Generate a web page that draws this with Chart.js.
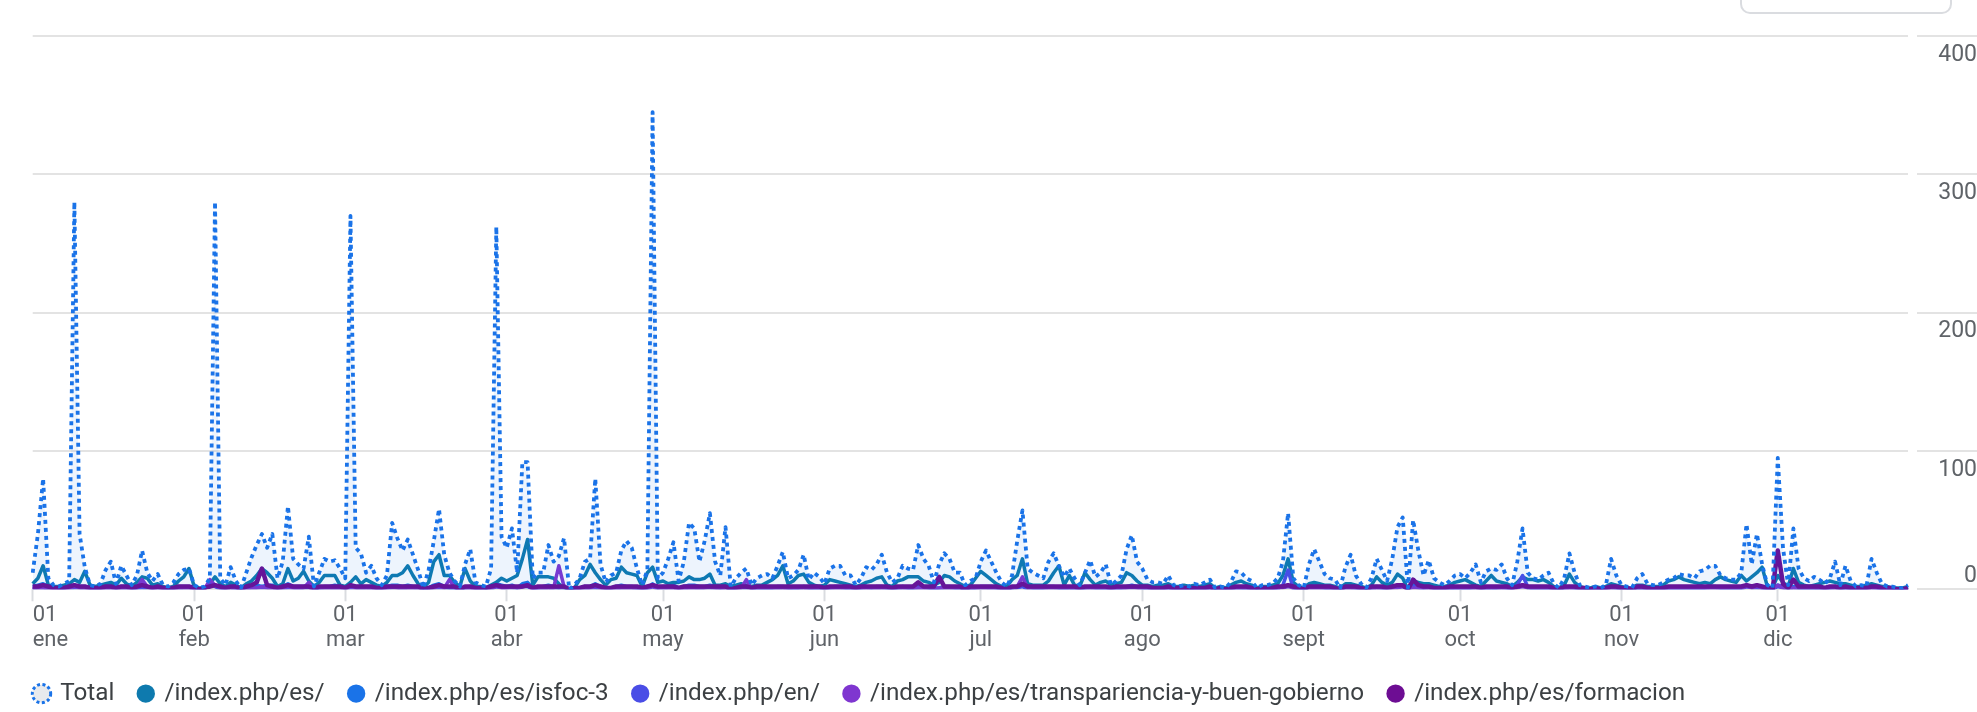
<!DOCTYPE html>
<html lang="es">
<head>
<meta charset="utf-8">
<title>Vistas por página</title>
<script src="https://cdn.jsdelivr.net/npm/chart.js@4.4.1/dist/chart.umd.min.js"></script>
<style>
  html, body { margin: 0; padding: 0; background: #fff; }
  #wrap { position: relative; width: 1977px; height: 712px; overflow: hidden; }
  #chart { display: block; }
  .menuBox { position: absolute; left: 1740px; top: -30px; width: 208px; height: 40px;
             border: 2px solid #dadce0; border-radius: 10px; }
</style>
</head>
<body>
<div id="wrap">
  <canvas id="chart" width="1977" height="712"></canvas>
  <div class="menuBox"></div>
</div>
<script>
// rango: 1 ene 2024 - 26 dic 2024, un punto por día
const year = 2024;
const monthNames = ["ene", "feb", "mar", "abr", "may", "jun", "jul", "ago", "sept", "oct", "nov", "dic"];
const monthDays = [31, 29, 31, 30, 31, 30, 31, 31, 30, 31, 30, 26];
const yTicks = [0, 100, 200, 300, 400];

// Total (una fila por mes)
const total = [
  12,40,80,8,3,2,4,6,280,40,16,3,2,4,14,20,4,17,10,3,10,28,12,6,11,3,2,5,11,14,15,
  3,1,2,8,280,8,3,16,6,1,12,23,32,40,30,40,8,20,60,22,18,15,38,2,12,22,20,21,15,
  8,270,30,26,12,17,8,3,10,48,37,28,36,25,14,1,14,35,58,25,12,6,2,18,29,5,3,2,15,262,38,
  30,44,12,92,92,8,12,12,32,20,24,37,0,3,8,20,22,80,18,5,10,12,28,35,30,15,3,14,345,8,
  12,22,34,6,20,48,44,20,35,55,20,10,45,2,8,12,15,3,8,10,11,8,17,27,8,10,14,25,7,12,9,
  4,15,17,17,10,10,3,8,16,14,18,25,12,5,8,17,15,14,32,22,17,5,18,26,22,12,12,3,6,8,
  20,28,20,12,5,2,10,35,57,15,12,10,8,20,26,17,9,15,8,3,12,21,9,12,18,3,6,10,29,39,20,
  15,7,5,5,4,10,3,2,3,2,4,3,5,7,1,2,1,5,13,12,8,6,1,3,3,4,8,20,55,8,3,
  1,18,29,20,11,8,7,1,16,25,10,4,1,8,22,14,6,22,45,52,1,50,28,10,21,8,5,3,6,10,
  11,8,12,18,5,13,15,14,18,8,3,20,44,12,8,7,10,12,4,1,8,26,12,3,2,1,2,1,3,22,10,
  3,2,1,8,11,4,3,3,5,7,8,11,10,10,8,13,14,17,17,10,8,7,7,12,47,18,40,18,3,1,
  95,30,3,44,15,8,6,9,7,4,8,20,3,17,6,2,3,2,22,12,4,2,2,1,1,3
];

// /index.php/es/
const pageEs = [
  4,8,17,3,2,2,3,4,7,5,13,3,2,3,4,5,3,8,4,2,5,9,8,3,4,2,1,2,6,9,15,
  2,1,1,4,9,4,2,5,3,1,4,6,10,15,12,8,2,4,15,6,8,13,6,2,5,10,10,10,3,
  2,5,9,4,7,5,3,2,5,10,10,12,17,10,4,1,5,20,25,10,10,5,2,15,6,2,2,1,3,5,8,
  6,8,10,22,36,3,9,9,9,8,4,1,0,1,7,10,18,12,7,3,7,8,16,12,11,10,2,12,16,5,
  6,4,5,5,6,9,7,7,8,11,3,3,4,2,3,4,3,2,3,3,5,7,10,17,4,6,10,11,5,3,2,
  3,7,6,5,4,3,2,3,5,6,8,9,3,2,6,7,9,9,9,6,5,3,5,10,9,6,4,2,3,8,
  13,10,7,4,2,2,7,10,22,4,3,3,3,6,12,17,3,10,3,2,12,7,3,5,6,3,4,5,12,10,6,
  3,3,2,3,3,4,2,2,3,2,3,2,3,4,1,2,1,3,5,6,4,3,1,2,2,3,4,10,22,5,2,
  1,4,5,4,3,3,2,1,4,4,3,2,1,3,9,5,3,5,11,8,0,6,5,4,4,3,2,2,3,5,
  6,7,5,3,2,6,10,6,5,4,2,5,9,7,7,6,7,5,2,1,3,11,5,2,1,1,2,1,2,4,3,
  2,1,1,3,3,2,2,2,3,6,7,9,7,6,5,4,5,4,7,9,7,6,5,10,6,9,12,16,2,1,
  10,5,2,15,5,3,2,3,4,5,6,5,4,4,3,2,2,3,4,3,2,2,1,1,1,2
];

// /index.php/es/isfoc-3
const pageIsfoc = [
  2,3,4,2,2,1,1,2,3,2,2,1,1,1,2,3,1,2,2,1,1,2,2,1,2,1,1,1,2,2,2,
  1,0,1,2,3,1,1,2,1,0,2,3,3,2,3,3,1,2,4,2,2,2,3,0,1,2,2,3,2,
  1,3,2,2,2,2,1,1,2,3,3,2,3,2,2,0,1,3,4,2,1,1,0,1,2,1,1,1,2,4,3,
  2,3,1,4,5,1,1,2,3,2,1,2,0,1,1,2,2,4,2,1,1,2,3,2,2,1,1,1,4,1,
  2,2,3,1,2,3,3,2,2,3,2,1,2,0,1,2,2,1,1,1,1,1,2,2,1,1,1,2,1,1,1,
  1,1,2,2,1,1,1,1,2,1,2,2,1,1,1,2,1,1,2,2,1,1,1,2,2,1,1,0,1,1,
  2,2,2,1,1,0,1,2,3,2,1,1,1,2,2,1,1,1,1,1,1,2,1,1,1,1,1,1,2,3,2,
  1,1,1,1,1,1,1,0,1,0,1,1,1,1,0,0,0,1,1,1,1,1,0,1,1,1,1,2,3,1,1,
  0,2,3,2,1,1,1,0,2,2,1,1,0,1,2,1,1,2,3,3,0,3,2,1,2,1,1,1,1,1,
  1,1,1,2,1,1,1,1,2,1,1,2,3,1,1,1,1,1,1,0,1,2,1,1,0,0,1,0,1,2,1,
  1,1,0,1,1,1,1,1,1,1,1,1,1,1,1,1,1,2,2,1,1,1,1,1,3,2,3,1,1,0,
  3,2,1,2,1,1,1,1,1,1,1,2,1,1,1,1,1,1,2,1,1,1,0,0,0,1
];

// /index.php/en/
const pageEn = [
  0,1,1,0,0,0,0,0,1,1,0,0,0,0,0,1,0,0,0,0,0,1,0,0,0,0,0,0,0,1,1,
  0,0,0,5,2,0,0,1,0,0,0,1,1,1,1,1,0,0,1,1,0,1,1,0,0,1,1,0,0,
  0,1,1,0,1,0,0,0,0,1,1,0,1,1,0,0,0,1,1,1,0,0,0,1,0,0,0,0,0,2,1,
  1,1,0,2,2,0,0,0,1,0,0,1,0,0,0,0,1,1,0,0,0,0,1,1,1,0,0,0,2,0,
  0,1,1,0,0,1,1,0,1,1,0,0,1,0,0,0,0,0,0,0,0,0,0,1,0,0,0,1,0,0,0,
  0,0,1,1,0,0,0,0,1,0,0,1,0,0,0,1,0,0,1,1,0,0,0,1,1,0,0,0,0,0,
  1,1,0,0,0,0,0,1,2,0,0,0,0,1,1,0,0,1,0,0,0,1,0,0,0,0,0,0,1,1,1,
  0,0,0,0,0,0,0,0,0,0,0,0,0,0,0,0,0,0,1,1,0,0,0,0,0,0,0,3,14,0,0,
  0,1,1,1,0,0,0,0,1,1,0,0,0,0,1,0,0,1,2,2,0,2,1,0,1,0,0,0,0,0,
  0,0,0,1,0,0,1,0,1,0,0,3,10,2,0,0,0,0,0,0,0,1,0,0,0,0,0,0,0,1,0,
  0,0,0,0,0,0,0,0,0,0,0,0,0,0,0,0,0,1,1,0,0,0,0,0,2,1,1,0,0,0,
  2,1,0,1,0,0,0,0,0,0,0,1,0,0,0,0,0,0,1,0,0,0,0,0,0,0
];

// /index.php/es/transpariencia-y-buen-gobierno
const pageTransp = [
  1,1,1,0,0,0,1,1,2,1,1,0,0,0,1,1,0,1,1,0,1,7,2,0,1,0,0,0,1,1,1,
  0,0,0,7,3,1,0,1,0,0,1,1,1,2,1,1,0,1,2,1,1,1,5,0,1,1,1,1,1,
  0,2,1,1,1,1,0,0,1,2,1,1,1,1,1,0,1,1,2,1,7,1,0,1,1,0,0,0,1,2,1,
  1,2,1,2,3,0,1,1,1,1,17,2,0,0,1,1,1,2,1,0,1,1,1,1,1,0,0,1,2,1,
  1,1,1,0,1,1,1,1,1,2,1,0,1,0,1,1,7,0,1,1,1,1,1,1,0,1,1,1,0,1,1,
  0,1,1,1,1,1,0,1,1,1,1,1,1,0,1,1,1,1,1,1,1,0,1,1,1,1,1,0,0,1,
  1,1,1,1,0,0,1,2,9,1,1,1,1,1,1,1,1,1,1,0,1,1,1,1,1,0,1,1,1,2,1,
  1,1,0,0,0,1,0,0,0,0,0,0,0,1,0,0,0,0,1,1,1,0,0,0,0,0,1,1,2,1,0,
  0,1,1,1,1,0,0,0,1,1,1,0,0,0,1,1,0,1,1,2,0,1,1,1,1,0,0,0,0,1,
  1,1,1,1,0,1,1,1,1,1,0,1,2,1,1,1,1,1,0,0,0,1,1,0,0,0,0,0,0,1,1,
  0,0,0,1,1,0,0,0,0,1,1,1,1,1,1,1,1,1,1,1,1,1,1,1,2,1,2,1,0,0,
  3,1,0,1,1,1,1,1,0,0,1,1,0,1,0,0,0,0,1,1,0,0,0,0,0,1
];

// /index.php/es/formacion
const pageFormacion = [
  2,2,3,2,1,1,1,2,3,2,2,1,1,1,2,2,1,2,2,1,2,3,2,1,2,1,1,1,2,2,2,
  1,0,1,2,3,2,1,2,2,0,2,3,5,15,3,2,1,2,3,2,2,2,2,0,2,2,2,2,2,
  1,3,2,2,2,2,1,1,2,2,2,2,2,2,2,0,1,2,3,2,2,2,0,2,2,1,1,1,2,3,2,
  2,2,2,2,3,1,2,2,2,2,2,2,0,1,1,2,2,3,2,1,1,2,2,2,2,2,1,2,3,2,
  2,2,2,1,2,2,2,2,2,2,2,2,2,0,1,2,2,1,2,2,2,2,2,2,2,2,2,2,2,2,2,
  1,2,2,2,2,2,1,2,2,2,2,2,2,1,2,2,2,2,5,2,2,2,9,2,2,2,2,0,2,2,
  2,2,2,2,1,0,2,2,4,2,2,2,2,2,2,2,2,2,2,1,2,2,2,2,2,1,2,2,2,2,2,
  2,2,1,1,1,2,1,1,1,1,1,1,1,2,0,1,0,1,2,2,2,1,0,1,1,1,2,2,3,2,1,
  0,2,2,2,2,2,1,0,2,2,2,1,0,2,2,2,1,2,3,3,0,7,3,2,2,1,1,1,2,2,
  2,2,2,2,1,2,2,2,2,2,1,2,3,2,2,2,2,2,1,0,2,2,2,1,1,0,1,0,1,2,2,
  1,1,0,2,2,1,1,1,1,2,2,2,2,2,2,2,2,2,2,2,2,2,2,2,3,2,3,2,1,0,
  28,4,1,7,2,2,2,2,2,1,2,2,1,2,1,1,1,1,2,2,1,1,1,0,0,1
];

// etiquetas de categoría (un día por punto)
const dayLabels = [];
const dayInfo = [];
monthDays.forEach((n, m) => {
  for (let d = 1; d <= n; d++) {
    dayLabels.push(year + "-" + String(m + 1).padStart(2, "0") + "-" + String(d).padStart(2, "0"));
    dayInfo.push({ month: m, day: d });
  }
});

const isMonthStart = i => dayInfo[i] && dayInfo[i].day === 1;

const lineBase = { pointRadius: 0, pointHoverRadius: 0, tension: 0, borderWidth: 3.5,
                   borderJoinStyle: "round", fill: false };

const datasets = [
  { ...lineBase, label: "Total", data: total, borderColor: "#1a73e8", borderDash: [4, 4], borderWidth: 3.8,
    fill: "origin", backgroundColor: "rgba(26,115,232,0.08)", order: 0 },
  { ...lineBase, label: "/index.php/es/", data: pageEs, borderColor: "#0e7aae", backgroundColor: "#0e7aae", order: 4 },
  { ...lineBase, label: "/index.php/es/isfoc-3", data: pageIsfoc, borderColor: "#1a73e8", backgroundColor: "#1a73e8", order: 5 },
  { ...lineBase, label: "/index.php/en/", data: pageEn, borderColor: "#4a4de6", backgroundColor: "#4a4de6", order: 3 },
  { ...lineBase, label: "/index.php/es/transpariencia-y-buen-gobierno", data: pageTransp, borderColor: "#7f36d0", backgroundColor: "#7f36d0", order: 2 },
  { ...lineBase, label: "/index.php/es/formacion", data: pageFormacion, borderColor: "#6d0d93", backgroundColor: "#6d0d93", borderWidth: 4.5, order: 1 }
];

const fontFamily = "Roboto, 'Noto Sans', sans-serif";

new Chart(document.getElementById("chart"), {
  type: "line",
  data: { labels: dayLabels, datasets },
  options: {
    responsive: false,
    devicePixelRatio: 1,
    animation: false,
    events: [],
    layout: { padding: { left: 10, top: 36, right: 0, bottom: 0 } },
    scales: {
      x: {
        type: "category",
        grid: {
          drawOnChartArea: false, drawTicks: true, tickLength: 12, tickWidth: 2,
          tickColor: ctx => isMonthStart(ctx.index) ? "#dadce0" : "rgba(0,0,0,0)"
        },
        border: { display: false },
        ticks: {
          autoSkip: false, maxRotation: 0, minRotation: 0, align: "inner", padding: 2.5,
          color: "#5f6368", font: { family: fontFamily, size: 22, lineHeight: 1.1 },
          callback: (value, index) => isMonthStart(index) ? ["01", monthNames[dayInfo[index].month]] : ""
        },
        afterFit: s => { s.height = 67.2; }
      },
      y: {
        position: "right", min: 0, max: 400,
        afterBuildTicks: s => { s.ticks = yTicks.map(v => ({ value: v })); },
        grid: {
          color: "#e3e3e3", lineWidth: 2, drawTicks: true, tickLength: 69,
          tickColor: "#e3e3e3", tickWidth: 2, tickBorderDash: [0, 9, 60, 0]
        },
        border: { display: false },
        ticks: {
          crossAlign: "far", padding: -39, labelOffset: 19,
          color: "#5f6368", font: { family: fontFamily, size: 23, lineHeight: 1.39 },
          callback: v => v === 0 ? ["0", "", ""] : String(v)
        },
        afterFit: s => { s.width = 69; }
      },
      pad: {
        type: "linear", position: "left", display: true,
        grid: { display: false }, border: { display: false }, ticks: { display: false },
        afterFit: s => { s.width = 22.7; }
      }
    },
    plugins: {
      tooltip: { enabled: false },
      legend: {
        position: "bottom", align: "start", maxHeight: 55.5,
        labels: {
          usePointStyle: true, boxWidth: 13, boxHeight: 13, padding: 25,
          color: "#3c4043", font: { family: fontFamily, size: 24.25 },
          sort: (a, b) => a.datasetIndex - b.datasetIndex,
          generateLabels(chart) {
            const items = Chart.defaults.plugins.legend.labels.generateLabels(chart);
            items.forEach(it => {
              const ds = chart.data.datasets[it.datasetIndex];
              it.pointStyle = "circle";
              if (it.datasetIndex === 0) {
                it.fillStyle = "#e8eaed"; it.strokeStyle = "#1a73e8"; it.lineWidth = 3; it.lineDash = [3, 2.5];
              } else {
                it.fillStyle = ds.borderColor; it.strokeStyle = ds.borderColor; it.lineWidth = 0; it.lineDash = [];
              }
            });
            return items;
          }
        }
      }
    }
  }
});
</script>
</body>
</html>
